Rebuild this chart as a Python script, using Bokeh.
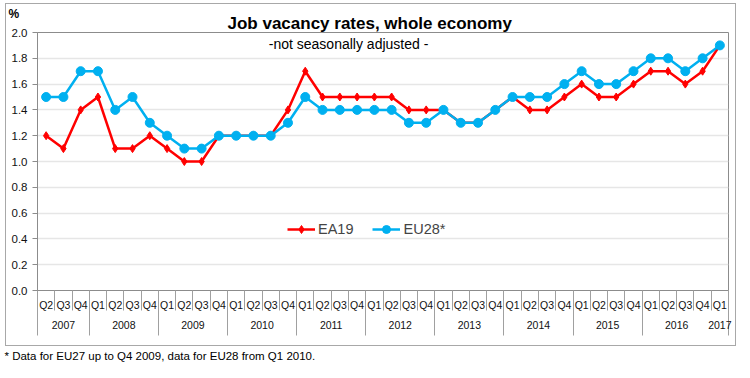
from bokeh.plotting import figure
from bokeh.layouts import column
from bokeh.models import (Range1d, LinearAxis, FixedTicker, NumeralTickFormatter,
                          Legend, LegendItem, Label, Title, ColumnDataSource)
from bokeh.embed import file_html
from bokeh.resources import INLINE

# ---------------- data ----------------
quarters = ["Q2", "Q3", "Q4"] + ["Q1", "Q2", "Q3", "Q4"] * 9 + ["Q1"]
years = [2007] * 3 + [y for y in range(2008, 2017) for _ in range(4)] + [2017]
ea19 = [1.2, 1.1, 1.4, 1.5, 1.1, 1.1, 1.2, 1.1, 1.0, 1.0,
        1.2, 1.2, 1.2, 1.2, 1.4, 1.7, 1.5, 1.5, 1.5, 1.5,
        1.5, 1.4, 1.4, 1.4, 1.3, 1.3, 1.4, 1.5, 1.4, 1.4,
        1.5, 1.6, 1.5, 1.5, 1.6, 1.7, 1.7, 1.6, 1.7, 1.9]
eu28 = [1.5, 1.5, 1.7, 1.7, 1.4, 1.5, 1.3, 1.2, 1.1, 1.1,
        1.2, 1.2, 1.2, 1.2, 1.3, 1.5, 1.4, 1.4, 1.4, 1.4,
        1.4, 1.3, 1.3, 1.4, 1.3, 1.3, 1.4, 1.5, 1.5, 1.5,
        1.6, 1.7, 1.6, 1.6, 1.7, 1.8, 1.8, 1.7, 1.8, 1.9]
y_ticks = [0.0, 0.2, 0.4, 0.6, 0.8, 1.0, 1.2, 1.4, 1.6, 1.8, 2.0]
series_names = ["EA19", "EU28*"]
title_text = "Job vacancy rates, whole economy"
subtitle_text = "-not  seasonally adjusted -"
unit_text = "%"
footnote_text = "* Data for EU27 up to Q4 2009, data for EU28 from Q1 2010."

RED = "#FF0000"
BLUE = "#00B0F0"
GREY = "#a0a0a0"
AXIS = "#8c8c8c"
FONT = "Liberation Sans"

n = len(quarters)
xs = list(range(n))
source = ColumnDataSource(dict(x=xs, ea19=ea19, eu28=eu28))

W, H = 731, 343
FL, FT, FR, FB = 31, 28, 9, 57
fw = W - FL - FR
fh = H - FT - FB
x0, x1 = -0.5, n - 0.5
y0, y1 = 0.0, 2.0


def fx(px):  # frame px from left -> data x
    return x0 + px / fw * (x1 - x0)


def fy(py):  # frame px from top -> data y
    return y1 - py / fh * (y1 - y0)


p = figure(width=W, height=H, output_backend="svg", toolbar_location=None,
           x_range=Range1d(x0, x1), y_range=Range1d(y0, y1),
           x_axis_type=None,
           min_border_left=FL, min_border_right=FR, min_border_top=FT, min_border_bottom=FB)
p.title.visible = False
p.outline_line_color = AXIS
p.outline_line_width = 1
p.background_fill_color = "white"
p.border_fill_color = "white"
p.styles = {"border": "1px solid #a8a8a8", "margin-left": "5px", "margin-top": "3px"}

# y axis
yax = p.yaxis[0]
yax.ticker = FixedTicker(ticks=y_ticks)
yax.formatter = NumeralTickFormatter(format="0.0")
yax.major_tick_out = 5
yax.major_tick_in = 0
yax.minor_tick_line_color = None
yax.axis_line_color = AXIS
yax.major_tick_line_color = AXIS
yax.major_label_text_font = FONT
yax.major_label_text_font_size = "11.5px"
yax.major_label_text_color = "#111111"
yax.major_label_standoff = 5

p.xgrid.visible = False
p.ygrid.ticker = FixedTicker(ticks=y_ticks)
p.ygrid.grid_line_color = "#e6e6e6"
p.ygrid.grid_line_width = 1.5

# quarter axis
q_bounds = [i - 0.5 for i in range(n + 1)]
qax = LinearAxis(ticker=FixedTicker(ticks=xs, minor_ticks=q_bounds),
                 major_label_overrides={i: q for i, q in enumerate(quarters)})
qax.major_tick_out = 0
qax.major_tick_in = 0
qax.major_tick_line_color = None
qax.minor_tick_out = 20
qax.minor_tick_in = 0
qax.minor_tick_line_color = GREY
qax.axis_line_color = AXIS
qax.major_label_text_font = FONT
qax.major_label_text_font_size = "10.5px"
qax.major_label_text_color = "#111111"
qax.major_label_standoff = -12
p.add_layout(qax, "below")

# year axis
year_list = sorted(set(years))
year_centers = []
year_bounds = [-0.5]
for yv in year_list:
    idx = [i for i, v in enumerate(years) if v == yv]
    year_centers.append((idx[0] + idx[-1]) / 2)
    if yv != year_list[-2]:
        year_bounds.append(idx[-1] + 0.5)
yax2 = LinearAxis(ticker=FixedTicker(ticks=year_centers, minor_ticks=year_bounds),
                  major_label_overrides={c: str(yv) for c, yv in zip(year_centers, year_list)})
yax2.axis_line_color = None
yax2.major_tick_line_color = None
yax2.major_tick_out = 0
yax2.major_tick_in = 0
yax2.minor_tick_line_color = GREY
yax2.minor_tick_in = 21
yax2.minor_tick_out = 22
yax2.major_label_text_font = FONT
yax2.major_label_text_font_size = "10.5px"
yax2.major_label_text_color = "#111111"
yax2.major_label_standoff = -15
p.add_layout(yax2, "below")

# series
r1 = p.line("x", "ea19", source=source, color=RED, line_width=2.5)
m1 = p.scatter("x", "ea19", source=source, marker="diamond", size=8, color=RED)
r2 = p.line("x", "eu28", source=source, color=BLUE, line_width=2.5)
m2 = p.scatter("x", "eu28", source=source, marker="circle", size=9, color=BLUE)

legend = Legend(items=[LegendItem(label=series_names[0], renderers=[r1, m1]),
                       LegendItem(label=series_names[1], renderers=[r2, m2])],
                orientation="horizontal", location=(250, 51),
                padding=0, margin=0, spacing=19, label_standoff=3,
                glyph_width=28, glyph_height=20,
                border_line_color=None, background_fill_alpha=0,
                label_text_font=FONT, label_text_font_size="14.5px")
p.add_layout(legend)

# subtitle inside frame
p.add_layout(Label(x=fx(313), y=fy(11.5), text=subtitle_text, text_align="center",
                   text_baseline="middle", text_font=FONT, text_font_size="14px",
                   text_color="#000000"))

# titles above
main_title = Title(text=title_text, align="left", offset=190, vertical_align="top",
                   standoff=-4, text_font=FONT, text_font_size="17px",
                   text_font_style="bold", text_color="#000000")
pct_title = Title(text=unit_text, align="left", offset=-29, vertical_align="top",
                  standoff=-17, text_font=FONT, text_font_size="12px",
                  text_font_style="bold", text_color="#000000")
p.add_layout(main_title, "above")
p.add_layout(pct_title, "above")

# footnote (outside the boxed chart)
foot = figure(width=740, height=24, output_backend="svg", toolbar_location=None,
              x_range=Range1d(0, 1), y_range=Range1d(0, 1),
              x_axis_type=None, y_axis_type=None, min_border=0)
foot.outline_line_color = None
foot.grid.visible = False
foot.title.visible = False
foot.add_layout(Title(text=footnote_text, align="left", offset=-27, vertical_align="middle",
                      standoff=4, text_font=FONT, text_font_size="11.5px",
                      text_font_style="normal", text_color="#000000"), "above")

layout = column(p, foot, spacing=0)
open("out.html", "w").write(file_html(layout, INLINE))
